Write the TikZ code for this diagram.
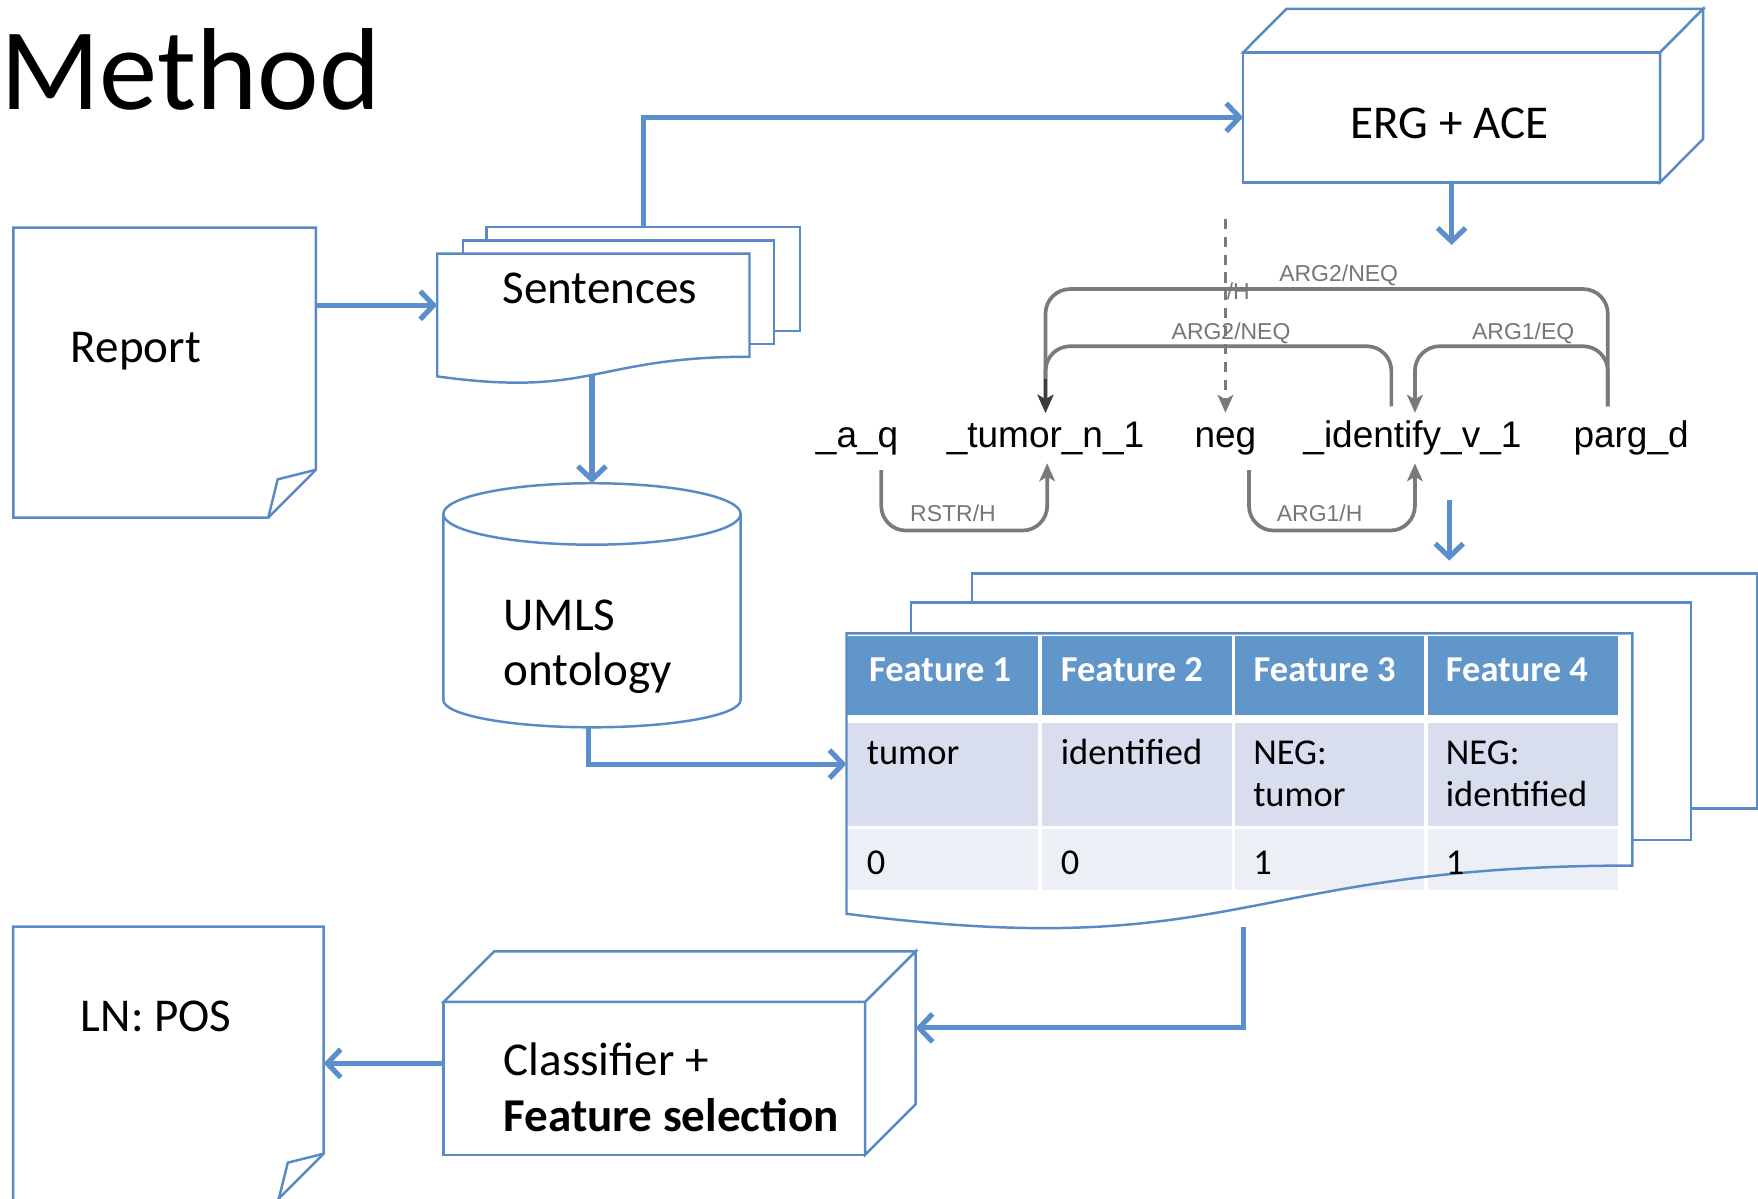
\documentclass[tikz,border=0pt]{standalone}
\usepackage{fontspec}
\setmainfont{Carlito}
\newfontfamily\arialf{Liberation Sans}
\usetikzlibrary{arrows.meta,calc}
\definecolor{shapeblue}{HTML}{5A8AC6}
\definecolor{arrowblue}{HTML}{5B8FCC}
\definecolor{hdrblue}{HTML}{6096CA}
\definecolor{rowa}{HTML}{D8DEED}
\definecolor{rowb}{HTML}{ECEFF6}
\definecolor{graylin}{HTML}{7A7A7A}
\definecolor{darklin}{HTML}{3C3C3C}
\definecolor{graylab}{HTML}{767676}
\begin{document}
\begin{tikzpicture}[x=1pt,y=-1pt,
 outl/.style={draw=shapeblue,line width=2.2pt,fill=white,line join=miter},
 box/.style={outl,rectangle,inner sep=0pt,outer sep=0pt},
 ghost/.style={rectangle,inner sep=0pt,outer sep=0pt},
 barrow/.style={draw=arrowblue,line width=4.6pt,-{Straight Barb[length=12pt,width=25pt]}},
 body/.style={inner sep=0pt,anchor=base west,font=\fontsize{42}{50}\selectfont},
 cell/.style={inner sep=0pt,anchor=base west,font=\fontsize{32.5}{37}\selectfont},
 hcell/.style={inner sep=0pt,anchor=base west,font=\fontsize{32.5}{37}\selectfont\bfseries,text=white},
 word/.style={anchor=base,inner sep=7pt,text height=23.6pt,text depth=7pt,font=\arialf\fontsize{33}{37}\selectfont},
 glab/.style={inner sep=0pt,anchor=base,text=graylab,font=\arialf\fontsize{20.5}{24}\selectfont},
 garc/.style={draw=graylin,line width=3.3pt,rounded corners=22pt,-{Stealth[length=16pt,width=14pt,inset=4pt]}},
 gdash/.style={draw=graylin,line width=3.3pt,dash pattern=on 9pt off 7pt,-{Stealth[length=16pt,width=14pt,inset=4pt]}},
]
\useasboundingbox (0,0) rectangle (1568,1069);

% title
\node[inner sep=0pt,anchor=base west,font=\fontsize{104}{110}\selectfont] (title) at (0,97.5) {Method};

% Report document
\node[ghost,minimum width=269.9pt,minimum height=258.7pt] (report) at (146.85,332.35) {};
\draw[outl] (report.north west) -- (report.north east) -- ([yshift=42.7pt]report.south east)
  -- ([xshift=-42.5pt]report.south east) -- (report.south west) -- cycle;
\draw[outl,fill=none] ([yshift=42.7pt]report.south east) -- ([shift={(-34.1pt,34.2pt)}]report.south east)
  -- ([xshift=-42.5pt]report.south east);
\node[body] (reptxt) at (63,323) {Report};

% Sentences stack
\node[box,minimum width=279.7pt,minimum height=92.5pt] (sentk) at (573.85,248.75) {};
\node[box,minimum width=277.4pt,minimum height=92.3pt] (sentm) at (551.7,260.45) {};
\node[ghost,minimum width=278.5pt,minimum height=91.9pt] (sentf) at (529.25,272.25) {};
\draw[outl] (sentf.north west) -- (sentf.north east) -- (sentf.south east)
  .. controls (sentf.south) and ([yshift=-36.8pt]sentf.south) .. ([yshift=-17.5pt]sentf.south west) -- cycle;
\node[body] (senttxt) at (448,270.7) {Sentences};

% ERG + ACE cube
\node[box,minimum width=371.8pt,minimum height=115.9pt] (erg) at (1294.7,104.65) {};
\draw[outl] (erg.north west) -- ++(38.5,-38.7) -- ++(371.8,0) -- (erg.north east) -- cycle;
\draw[outl] (erg.north east) -- ++(38.5,-38.7) -- ++(0,115.9) -- (erg.south east) -- cycle;
\node[body] (ergtxt) at (1204.5,123.4) {ERG + ACE};

% UMLS cylinder
\node[ghost,minimum width=265.2pt,minimum height=217.7pt] (umls) at (528,539.85) {};
\draw[outl] ([yshift=-27.4pt]umls.north west) -- ([yshift=24.4pt]umls.south west)
  arc[start angle=180,end angle=360,x radius=132.6pt,y radius=24.4pt]
  -- ([yshift=-27.4pt]umls.north east)
  arc[start angle=0,end angle=180,x radius=132.6pt,y radius=27.4pt] -- cycle;
\draw[outl,fill=none] ([yshift=-27.4pt]umls.north west)
  arc[start angle=180,end angle=360,x radius=132.6pt,y radius=27.4pt];
\node[body] (umls1) at (449,561.9) {UMLS};
\node[body] (umls2) at (449,611) {ontology};

% Graph
\node[word] (aq) at (764.5,399) {\_a\_q};
\node[word] (tumor) at (932.5,399) {\_tumor\_n\_1};
\node[word] (neg) at (1093,399) {neg};
\node[word] (ident) at (1259.8,399) {\_identify\_v\_1};
\node[word] (parg) at (1454.8,399) {parg\_d};

\draw[garc] ([shift={(-20.8pt,5.7pt)}]parg.north) -- ++(0,-104.7) -| (tumor.north);
\draw[garc] ([shift={(-18.8pt,5.7pt)}]ident.north) -- ++(0,-53.7) -| (tumor.north);
\draw[garc] ([shift={(-20.8pt,5.7pt)}]parg.north) -- ++(0,-53.7) -| ([xshift=2.2pt]ident.north);
\draw[garc,draw=darklin] ([yshift=30pt]tumor.north) -- (tumor.north);
\draw[gdash] ([yshift=173.2pt]neg.north) -- (neg.north);
\draw[garc] ([shift={(21.5pt,-6pt)}]aq.south) -- ++(0,54) -| ([xshift=1.5pt]tumor.south);
\draw[garc] ([shift={(21pt,-6pt)}]neg.south) -- ++(0,54) -| ([xshift=2.2pt]ident.south);

\node[glab] (l1) at (1194,251) {ARG2/NEQ};
\node[glab] (l2) at (1098,303) {ARG2/NEQ};
\node[glab] (l3) at (1358.6,303) {ARG1/EQ};
\node[glab] (l4) at (850,465) {RSTR/H};
\node[glab] (l5) at (1177,465) {ARG1/H};
\node[glab,anchor=base west] (l6) at (1094,267) {/H};

% Table stack
\node[box,minimum width=700pt,minimum height=209.6pt] (tblk) at (1217,616.2) {};
\node[box,minimum width=695.4pt,minimum height=211.5pt] (tblm) at (1160.3,643.25) {};
\node[ghost,minimum width=701pt,minimum height=207pt] (tblf) at (1105.5,668.5) {};
\path[fill=white] (tblf.north west) -- (tblf.north east) -- (tblf.south east)
  .. controls (tblf.south) and ([yshift=-88pt]tblf.south) .. ([yshift=-43pt]tblf.south west) -- cycle;
% cells
\fill[hdrblue] (755,567.2) rectangle (926.1,637.7);
\fill[hdrblue] (929.1,567.2) rectangle (1098.5,637.7);
\fill[hdrblue] (1101.5,567.2) rectangle (1270.5,637.7);
\fill[hdrblue] (1273.5,567.2) rectangle (1443,637.7);
\fill[rowa] (755,645.1) rectangle (926.1,736.4);
\fill[rowa] (929.1,645.1) rectangle (1098.5,736.4);
\fill[rowa] (1101.5,645.1) rectangle (1270.5,736.4);
\fill[rowa] (1273.5,645.1) rectangle (1443,736.4);
\fill[rowb] (755,739.7) rectangle (926.1,793.8);
\fill[rowb] (929.1,739.7) rectangle (1098.5,793.8);
\fill[rowb] (1101.5,739.7) rectangle (1270.5,793.8);
\fill[rowb] (1273.5,739.7) rectangle (1443,793.8);
\draw[outl,fill=none] (tblf.north west) -- (tblf.north east) -- (tblf.south east)
  .. controls (tblf.south) and ([yshift=-88pt]tblf.south) .. ([yshift=-43pt]tblf.south west) -- cycle;
\node[hcell] (h1) at (775,608) {Feature 1};
\node[hcell] (h2) at (946,608) {Feature 2};
\node[hcell] (h3) at (1118,608) {Feature 3};
\node[hcell] (h4) at (1289.5,608) {Feature 4};
\node[cell] (r1) at (773,682.3) {tumor};
\node[cell] (r2) at (946,682.3) {identified};
\node[cell] (r3a) at (1117.6,682.3) {NEG:};
\node[cell] (r3b) at (1117.6,719.5) {tumor};
\node[cell] (r4a) at (1289.4,682.3) {NEG:};
\node[cell] (r4b) at (1289.4,719.5) {identified};
\node[cell] (s1) at (773,780.4) {0};
\node[cell] (s2) at (946,780.4) {0};
\node[cell] (s3) at (1117.7,780.4) {1};
\node[cell] (s4) at (1289.4,780.4) {1};

% Classifier cube
\node[box,minimum width=375.9pt,minimum height=136.4pt] (cls) at (583.65,961.8) {};
\draw[outl] (cls.north west) -- ++(45,-45) -- ++(375.9,0) -- (cls.north east) -- cycle;
\draw[outl] (cls.north east) -- ++(45,-45) -- ++(0,136.4) -- (cls.south east) -- cycle;
\node[body] (cls1) at (449,959) {Classifier +};
\node[body,font=\fontsize{42}{50}\selectfont\bfseries] (cls2) at (449,1009) {Feature selection};

% LN: POS document
\node[ghost,minimum width=276.9pt,minimum height=245.5pt] (ln) at (150.25,949.25) {};
\draw[outl] (ln.north west) -- (ln.north east) -- ([yshift=43pt]ln.south east)
  -- ([xshift=-43pt]ln.south east) -- (ln.south west) -- cycle;
\draw[outl,fill=none] ([yshift=43pt]ln.south east) -- ([shift={(-32pt,35pt)}]ln.south east)
  -- ([shift={(-40pt,3pt)}]ln.south east);
\node[body] (lntxt) at (72,920) {LN: POS};

% Connectors
\coordinate (sentb) at (528,334);
\coordinate (grin) at (1294.7,218.5);
\coordinate (grout) at (1292.6,446);
\coordinate (tblin) at (1292.6,500);
\coordinate (tblout) at (1109,827);
\draw[barrow] (report.east |- sentf.west) -- (sentf.west);
\draw[barrow] (sentk.north) |- (erg.west);
\draw[barrow] (erg.south) -- (grin);
\draw[barrow] (sentb) -- (umls.north);
\draw[barrow] ([xshift=-3pt]umls.south) |- ([yshift=-13pt]tblf.west);
\draw[barrow] (grout) -- (tblin);
\draw[barrow] (tblout) |- ([shift={(45pt,45pt)}]cls.east);
\draw[barrow] ([yshift=13.4pt]cls.west) -- ([yshift=13.4pt]cls.west -| ln.east);
\end{tikzpicture}
\end{document}
